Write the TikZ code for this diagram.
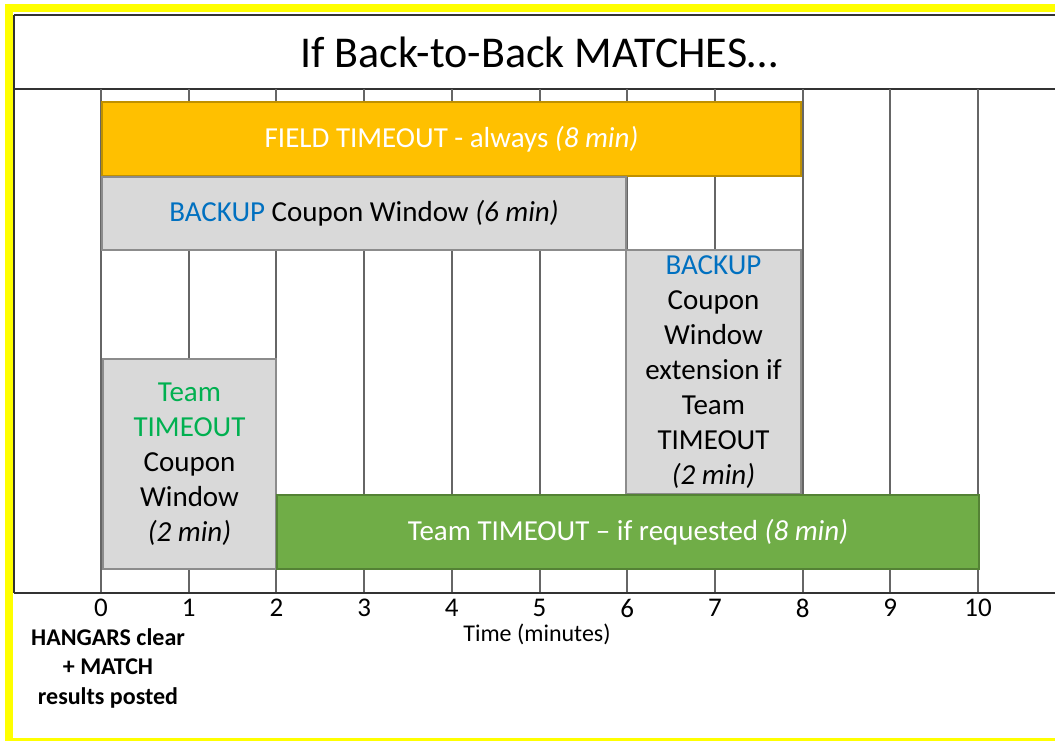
\documentclass[tikz,border=0pt]{standalone}
\usepackage{fontspec}
\setmainfont{Carlito}
\definecolor{gold}{HTML}{FFC000}
\definecolor{golddark}{HTML}{BF9000}
\definecolor{panel}{HTML}{D9D9D9}
\definecolor{panelline}{HTML}{8C8C8C}
\definecolor{grass}{HTML}{70AD47}
\definecolor{grassdark}{HTML}{548235}
\definecolor{bluetxt}{HTML}{0070C0}
\definecolor{greentxt}{HTML}{00B050}
\definecolor{gridgray}{HTML}{666666}
\definecolor{frameyellow}{HTML}{FFFF00}
\tikzset{
  bar/.style={draw, line width=2pt, anchor=north west, inner sep=0pt,
    align=center, font=\fontsize{29}{35}\selectfont},
  goldbar/.style={bar, fill=gold, draw=golddark, text=white},
  graybar/.style={bar, fill=panel, draw=panelline, text=black},
  greenbar/.style={bar, fill=grass, draw=grassdark, text=white},
  gridline/.style={draw=gridgray, line width=2pt},
  frameline/.style={draw=black!80, line width=1.5pt},
  ticklabel/.style={font=\fontsize{27}{30}\selectfont, anchor=center}
}
\begin{document}
\begin{tikzpicture}[x=1pt, y=-1pt]
\useasboundingbox (0,0) rectangle (1055,741);
\fill[white] (0,0) rectangle (1055,741);
% outer highlight frame
\draw[frameyellow, line width=8pt] (9,8) rectangle (1070,742);
% title band
\draw[frameline] (14,15) -- (1060,15);
\draw[frameline] (14,89) -- (1060,89);
\draw[frameline] (14,15) -- (14,593);
\node[font=\fontsize{44}{50}\selectfont] (title) at (539,52) {If Back-to-Back MATCHES…};
% minute grid
\foreach \t in {0,...,10} {
  \draw[gridline] ({101+87.7*\t},89) -- ({101+87.7*\t},593);
}
% time axis
\draw[frameline] (14,593) -- (1060,593);
\foreach \t in {0,...,10} {
  \node[ticklabel] (tick\t) at ({101+87.7*\t},608) {\t};
}
\node[font=\fontsize{24}{28}\selectfont] (axislabel) at (537,634) {Time (minutes)};
\node[font=\bfseries\fontsize{24}{29.5}\selectfont, align=center] (start) at (108,668)
  {HANGARS clear\\+ MATCH\\results posted};
% timing windows
\node[goldbar, minimum width=699pt, minimum height=74pt] (field) at (101,101)
  {FIELD TIMEOUT - always \textit{(8 min)}};
\node[graybar, minimum width=524pt, minimum height=73pt] (backup) at (101,176)
  {\textcolor{bluetxt}{BACKUP} Coupon Window \textit{(6 min)}};
\node[graybar, minimum width=175pt, minimum height=244pt] (extension) at (625,249)
  {\textcolor{bluetxt}{BACKUP}\\Coupon\\Window\\extension if\\Team\\TIMEOUT\\\textit{(2 min)}};
\node[graybar, minimum width=173pt, minimum height=210pt] (teamcoupon) at (102,358)
  {\textcolor{greentxt}{Team}\\\textcolor{greentxt}{TIMEOUT}\\Coupon\\Window\\\textit{(2 min)}};
\node[greenbar, minimum width=702pt, minimum height=74pt] (teamtimeout) at (276,494)
  {Team TIMEOUT – if requested \textit{(8 min)}};
\end{tikzpicture}
\end{document}
